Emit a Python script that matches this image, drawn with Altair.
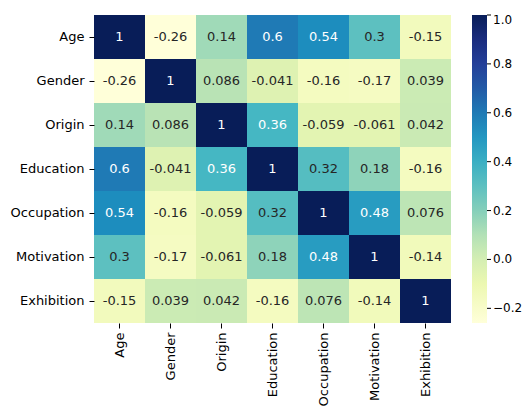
import altair as alt
import pandas as pd

names = ["Age", "Gender", "Origin", "Education", "Occupation", "Motivation", "Exhibition"]
row_age = [1, -0.26, 0.14, 0.6, 0.54, 0.3, -0.15]
row_gender = [-0.26, 1, 0.086, -0.041, -0.16, -0.17, 0.039]
row_origin = [0.14, 0.086, 1, 0.36, -0.059, -0.061, 0.042]
row_education = [0.6, -0.041, 0.36, 1, 0.32, 0.18, -0.16]
row_occupation = [0.54, -0.16, -0.059, 0.32, 1, 0.48, 0.076]
row_motivation = [0.3, -0.17, -0.061, 0.18, 0.48, 1, -0.14]
row_exhibition = [-0.15, 0.039, 0.042, -0.16, 0.076, -0.14, 1]
rows = [row_age, row_gender, row_origin, row_education, row_occupation, row_motivation, row_exhibition]
cbar_ticks = [-0.2, 0.0, 0.2, 0.4, 0.6, 0.8, 1.0]
vmin, vmax = -0.26, 1.0
ylgnbu = ["#ffffd9", "#edf8b1", "#c7e9b4", "#7fcdbb", "#41b6c4",
          "#1d91c0", "#225ea8", "#253494", "#081d58"]

records = []
for i, r in enumerate(names):
    for j, c in enumerate(names):
        v = rows[i][j]
        records.append({"row": r, "col": c, "value": v, "label": f"{v:.2g}"})
df = pd.DataFrame(records)

n = len(ylgnbu) - 1
color_domain = [vmin + k * (vmax - vmin) / n for k in range(n + 1)]

FONT = "DejaVu Sans"
W, H = 357, 308
LEG_X = 378
LEG_T = 15

base = alt.Chart(df)
rect = base.mark_rect(strokeWidth=0).encode(
    x=alt.X("col:N", sort=names, title=None,
            scale=alt.Scale(paddingInner=0, paddingOuter=0),
            axis=alt.Axis(labelAngle=-90, domain=False, tickSize=5, tickColor="black",
                          labelPadding=4, labelFontSize=13, labelColor="black", labelFont=FONT)),
    y=alt.Y("row:N", sort=names, title=None,
            scale=alt.Scale(paddingInner=0, paddingOuter=0),
            axis=alt.Axis(domain=False, tickSize=5, tickColor="black", labelPadding=5,
                          labelFontSize=13, labelColor="black", labelFont=FONT)),
    color=alt.Color("value:Q",
                    scale=alt.Scale(type="linear", domain=color_domain, range=ylgnbu,
                                    interpolate="rgb"),
                    legend=alt.Legend(orient="none", legendX=LEG_X, legendY=0, title=None,
                                      direction="vertical",
                                      gradientLength=H, gradientThickness=LEG_T,
                                      gradientStrokeWidth=0,
                                      values=cbar_ticks, format=".1f",
                                      labelOffset=6, labelBaseline="middle",
                                      labelFontSize=12, labelColor="black", labelFont=FONT)),
)
text = base.mark_text(fontSize=13, font=FONT).encode(
    x=alt.X("col:N", sort=names),
    y=alt.Y("row:N", sort=names),
    text="label:N",
    color=alt.condition(alt.datum.value > 0.34, alt.value("white"), alt.value("#262626")),
)
heat = alt.layer(rect, text)

tick_df = pd.DataFrame({"t": cbar_ticks})
ticks = alt.Chart(tick_df).mark_rule(color="black", strokeWidth=1).encode(
    x=alt.value(LEG_X + LEG_T), x2=alt.value(LEG_X + LEG_T + 4),
    y=alt.Y("t:Q", scale=alt.Scale(domain=[vmin, vmax], range=[H, 0]), axis=None),
)

chart = alt.layer(heat, ticks).resolve_scale(y="independent").properties(
    width=W, height=H,
    autosize=alt.AutoSizeParams(type="none"),
    padding={"left": 86, "top": 7, "right": 71, "bottom": 85},
).configure_view(strokeWidth=0)

chart.save("out.html", embed_options={"renderer": "svg", "actions": False})
